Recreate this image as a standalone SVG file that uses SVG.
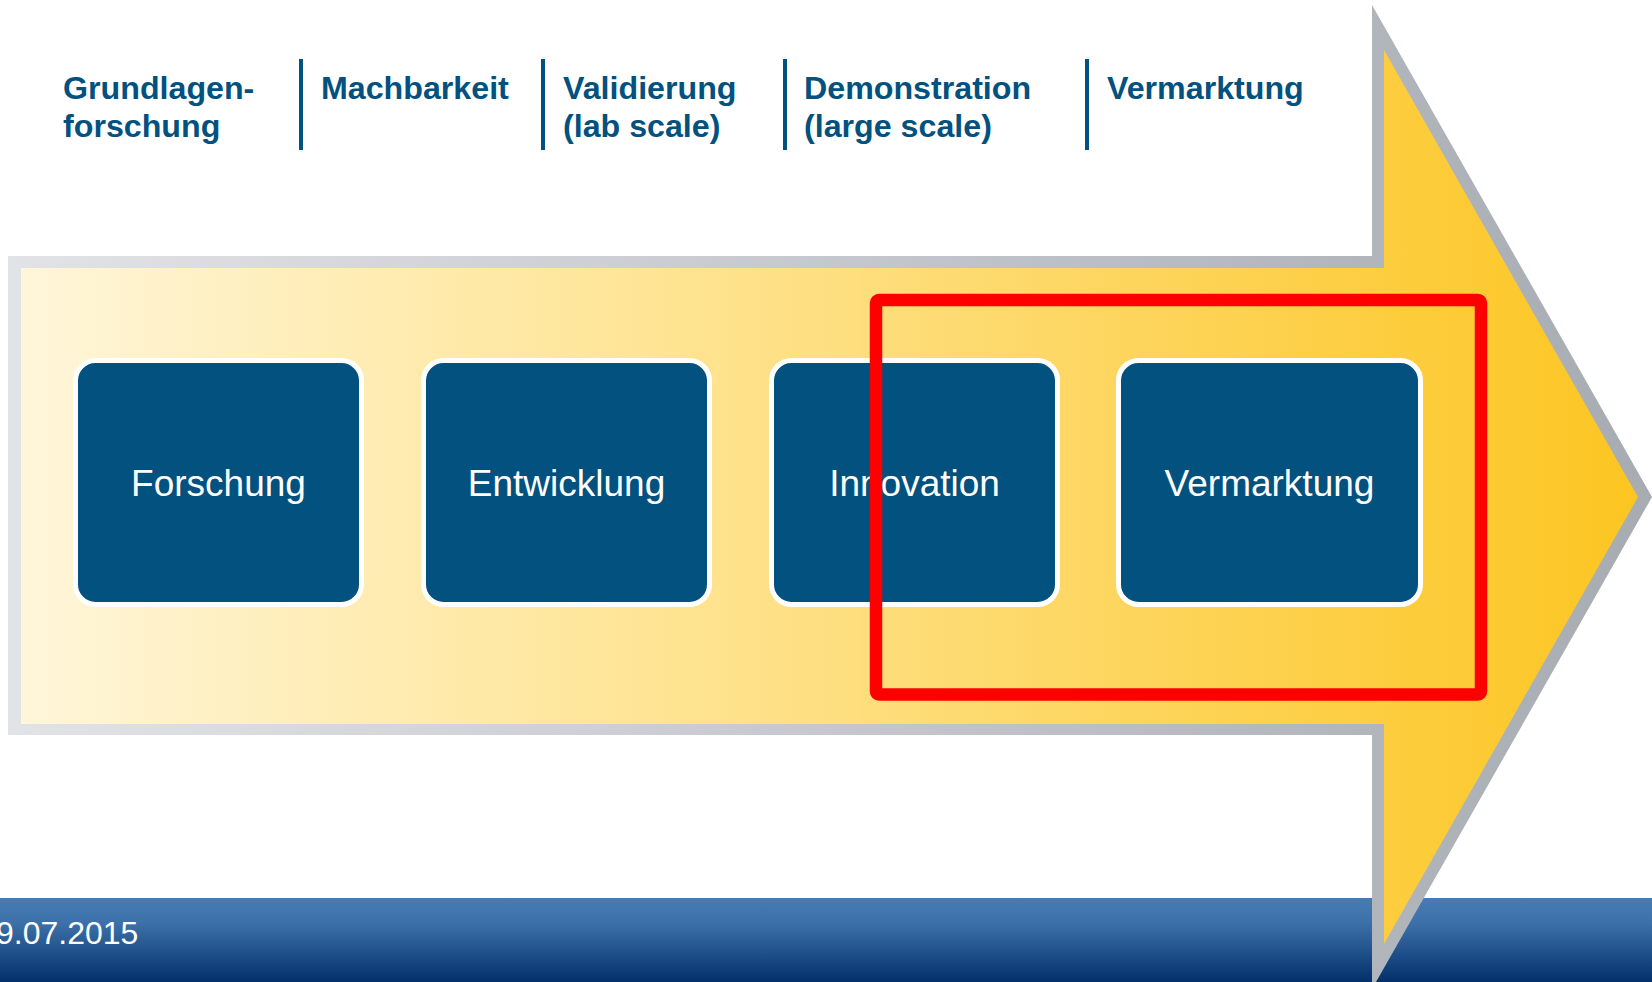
<svg xmlns="http://www.w3.org/2000/svg" width="1652" height="982" viewBox="0 0 1652 982">
<defs>
<linearGradient id="gy" gradientUnits="userSpaceOnUse" x1="20" y1="0" x2="1640" y2="0">
<stop offset="0" stop-color="#fff6da"/>
<stop offset="0.5" stop-color="#fedf80"/>
<stop offset="1" stop-color="#fcc521"/>
</linearGradient>
<linearGradient id="gg" gradientUnits="userSpaceOnUse" x1="8" y1="0" x2="1652" y2="0">
<stop offset="0" stop-color="#e2e3e7"/>
<stop offset="1" stop-color="#a7acb3"/>
</linearGradient>
<linearGradient id="gf" x1="0" y1="0" x2="0" y2="1">
<stop offset="0" stop-color="#467cb4"/>
<stop offset="0.3" stop-color="#3d70a8"/>
<stop offset="1" stop-color="#03306a"/>
</linearGradient>
<style>
.hd{font-family:"Liberation Sans",Arial,sans-serif;font-weight:bold;font-size:32.2px;fill:#03517f}
.sep{stroke:#03517f;stroke-width:4}
.box{fill:#03517f;stroke:#ffffff;stroke-width:5}
.bt{font-family:"Liberation Sans",Arial,sans-serif;font-size:37px;fill:#ffffff;text-anchor:middle}
</style>
</defs>
<rect width="1652" height="982" fill="#ffffff"/>
<rect id="footer" x="0" y="898" width="1652" height="84" fill="url(#gf)"/>
<text x="-4" y="944" font-family="Liberation Sans, Arial, sans-serif" font-size="32" fill="#ffffff">9.07.2015</text>
<g id="arrow">
<polygon points="8,256 1372,256 1372,5 1652,497 1372,989 1372,735 8,735" fill="url(#gg)"/>
<polygon points="21,268 1384,268 1384,50 1638,497 1384,944 1384,724 21,724" fill="url(#gy)"/>
</g>
<g id="headers">
<text class="hd" x="63" y="99">Grundlagen-</text>
<text class="hd" x="63" y="137">forschung</text>
<line class="sep" x1="301" y1="59" x2="301" y2="150"/>
<text class="hd" x="321" y="99">Machbarkeit</text>
<line class="sep" x1="543" y1="59" x2="543" y2="150"/>
<text class="hd" x="563" y="99">Validierung</text>
<text class="hd" x="563" y="137">(lab scale)</text>
<line class="sep" x1="785" y1="59" x2="785" y2="150"/>
<text class="hd" x="804" y="99">Demonstration</text>
<text class="hd" x="804" y="137">(large scale)</text>
<line class="sep" x1="1087" y1="59" x2="1087" y2="150"/>
<text class="hd" x="1107" y="99">Vermarktung</text>
</g>
<g id="n1"><rect class="box" x="75.5" y="360.5" width="286" height="244" rx="20"/><text class="bt" x="218.5" y="496">Forschung</text></g>
<g id="n2"><rect class="box" x="423.5" y="360.5" width="286" height="244" rx="20"/><text class="bt" x="566.5" y="496">Entwicklung</text></g>
<g id="n3"><rect class="box" x="771.5" y="360.5" width="286" height="244" rx="20"/><text class="bt" x="914.5" y="496">Innovation</text></g>
<g id="n4"><rect class="box" x="1118.5" y="360.5" width="302" height="244" rx="20"/><text class="bt" x="1269.5" y="496">Vermarktung</text></g>
<g id="connectors"></g>
<rect id="highlight" x="876" y="300" width="605" height="394.5" rx="3" fill="none" stroke="#ff0000" stroke-width="12.5"/>
</svg>
